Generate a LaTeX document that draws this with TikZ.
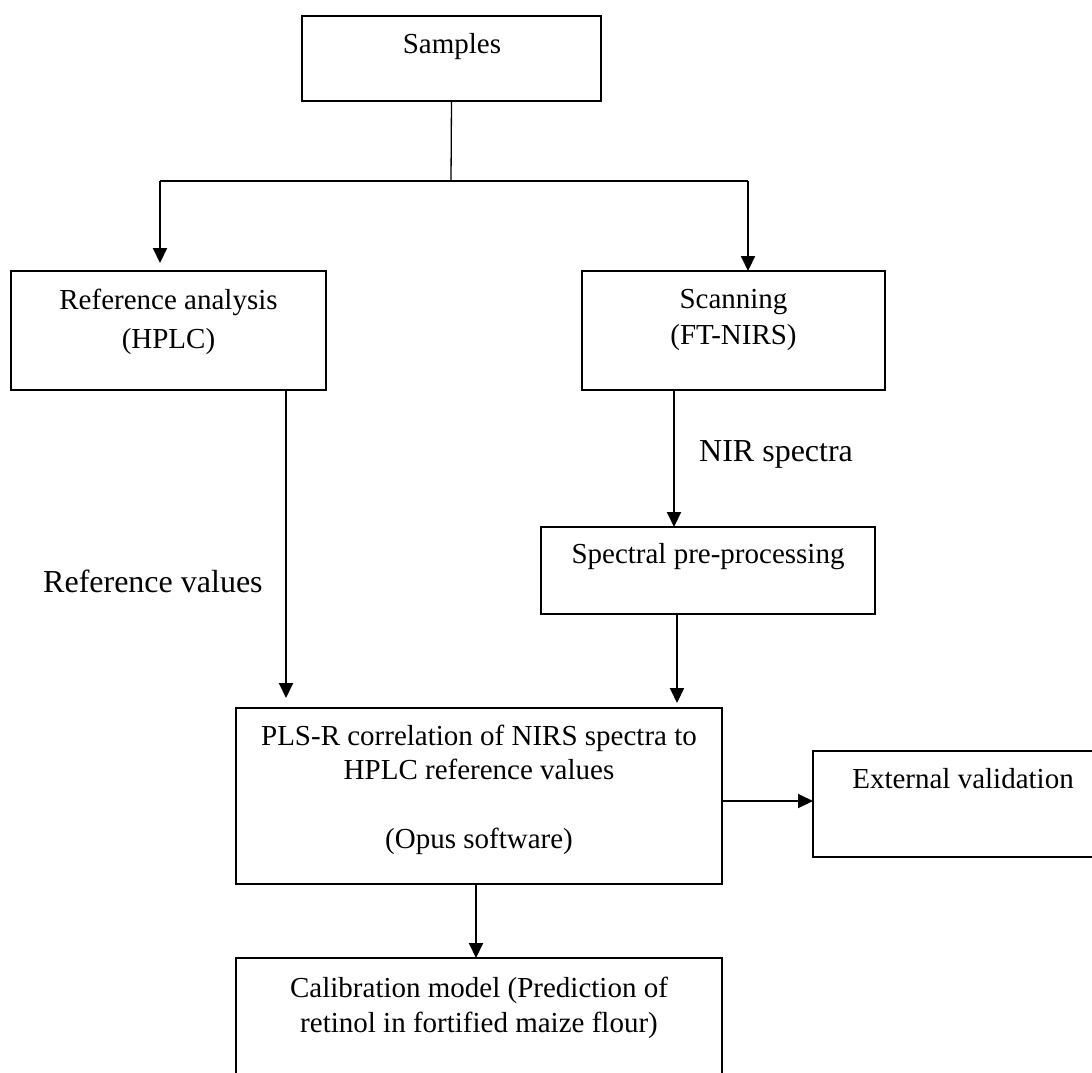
\documentclass[tikz,border=0pt]{standalone}
\usepackage{fontspec}
\setmainfont{Liberation Serif}
\usetikzlibrary{arrows.meta}
\begin{document}
\begin{tikzpicture}[x=1pt,y=-1pt,
  box/.style={draw=black, line width=2.2pt, rectangle, inner sep=0pt, outer sep=0pt},
  txt/.style={anchor=base, inner sep=0pt, font=\fontsize{29}{35}\selectfont},
  lbl/.style={anchor=base west, inner sep=0pt, font=\fontsize{32}{38}\selectfont},
  thinline/.style={line width=1.3pt},
  arr/.style={line width=2pt, -{Triangle[length=15pt,width=14pt]}}]
\useasboundingbox (0,0) rectangle (1092,1072);
\clip (0,0) rectangle (1092,1072);
\fill[white] (0,0) rectangle (1092,1072);
% boxes
\node[box, minimum width=299pt, minimum height=85pt] (samples) at (451.5,58.5) {};
\node[box, minimum width=315pt, minimum height=119pt] (ref) at (168.5,330.5) {};
\node[box, minimum width=303pt, minimum height=119pt] (scan) at (733.5,330.5) {};
\node[box, minimum width=334pt, minimum height=87pt] (spec) at (708,570.5) {};
\node[box, minimum width=486pt, minimum height=176pt] (pls) at (479,796) {};
\node[box, minimum width=302pt, minimum height=106pt] (ext) at (964,804) {};
\node[box, minimum width=486pt, minimum height=140pt] (cal) at (479,1028) {};
% texts
\node[txt] (tsamples) at (452,53) {Samples};
\node[txt] (tref1) at (168.5,309) {Reference analysis};
\node[txt] (tref2) at (168.5,348) {(HPLC)};
\node[txt] (tscan1) at (733.5,308) {Scanning};
\node[txt] (tscan2) at (733.5,344) {(FT-NIRS)};
\node[lbl] (tnir) at (699,461) {NIR spectra};
\node[txt] (tspec) at (708,563) {Spectral pre-processing};
\node[lbl] (trefval) at (43,592) {Reference values};
\node[txt] (tpls1) at (479,745) {PLS-R correlation of NIRS spectra to};
\node[txt] (tpls2) at (479,779) {HPLC reference values};
\node[txt] (tpls3) at (479,848) {(Opus software)};
\node[txt] (text) at (963,788) {External validation};
\node[txt] (tcal1) at (479,997) {Calibration model (Prediction of};
\node[txt] (tcal2) at (479,1032) {retinol in fortified maize flour)};
% junction coordinates
\coordinate (j) at (451,181);
\coordinate (jl) at (160,181);
\coordinate (jr) at (748,181);
\coordinate (reftip) at (160,263);
\coordinate (xrv) at (286,0);
\coordinate (xnir) at (674,0);
\coordinate (xsp) at (677,0);
\coordinate (xcal) at (476,0);
\coordinate (yext) at (0,801);
% connectors
\draw[thinline] (samples.south) -- (j);
\draw[thinline] (jl) -- (jr);
\draw[arr] (jl) -- (reftip);
\draw[arr] (jr) -- (jr |- scan.north);
\draw[arr, shorten >=10pt] (ref.south -| xrv) -- (pls.north -| xrv);
\draw[arr] (scan.south -| xnir) -- (spec.north -| xnir);
\draw[arr, shorten >=5pt] (spec.south -| xsp) -- (pls.north -| xsp);
\draw[arr] (pls.south -| xcal) -- (cal.north -| xcal);
\draw[arr] (pls.east |- yext) -- (ext.west |- yext);
\end{tikzpicture}
\end{document}
